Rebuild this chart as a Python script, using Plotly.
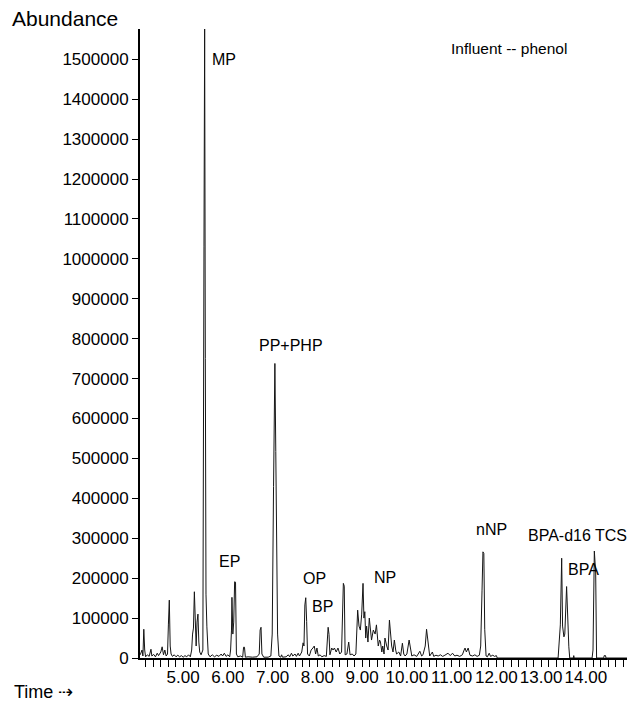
import plotly.graph_objects as go

# ---------------- data ----------------
time_min = [
    4.04, 4.08, 4.10, 4.12, 4.14, 4.16, 4.20, 4.24, 4.28, 4.30, 4.34, 4.38, 4.42, 4.45,
    4.50, 4.53, 4.56, 4.59, 4.62, 4.65, 4.67, 4.69, 4.71, 4.73, 4.76, 4.80, 4.84, 4.88,
    4.92, 4.96, 5.00, 5.04, 5.08, 5.12, 5.16, 5.19, 5.21, 5.23, 5.25, 5.27, 5.29, 5.31,
    5.33, 5.35, 5.37, 5.40, 5.44, 5.465, 5.48, 5.495, 5.51, 5.53, 5.56, 5.60, 5.65, 5.70,
    5.75, 5.80, 5.85, 5.88, 5.92, 5.96, 6.00, 6.04, 6.06, 6.08, 6.09, 6.11, 6.13, 6.15,
    6.17, 6.19, 6.22, 6.28, 6.33, 6.35, 6.37, 6.39, 6.45, 6.55, 6.65, 6.70, 6.72, 6.74,
    6.76, 6.80, 6.90, 6.96, 6.99, 7.02, 7.05, 7.07, 7.09, 7.11, 7.14, 7.18, 7.20, 7.22,
    7.30, 7.35, 7.38, 7.42, 7.45, 7.50, 7.53, 7.57, 7.60, 7.65, 7.68, 7.70, 7.72, 7.74,
    7.76, 7.78, 7.82, 7.86, 7.90, 7.93, 7.96, 7.99, 8.02, 8.06, 8.10, 8.15, 8.20, 8.22,
    8.24, 8.26, 8.28, 8.32, 8.35, 8.38, 8.42, 8.46, 8.50, 8.54, 8.56, 8.58, 8.60, 8.62,
    8.66, 8.70, 8.73, 8.78, 8.82, 8.86, 8.90, 8.93, 8.96, 8.99, 9.02, 9.04, 9.06, 9.08,
    9.10, 9.13, 9.16, 9.19, 9.21, 9.25, 9.29, 9.32, 9.36, 9.39, 9.41, 9.44, 9.46, 9.49,
    9.51, 9.55, 9.58, 9.61, 9.64, 9.66, 9.69, 9.72, 9.75, 9.77, 9.82, 9.86, 9.90, 9.93,
    9.96, 10.00, 10.05, 10.08, 10.11, 10.16, 10.22, 10.29, 10.33, 10.36, 10.41, 10.44,
    10.47, 10.51, 10.57, 10.60, 10.65, 10.70, 10.75, 10.80, 10.85, 10.92, 10.97, 11.02,
    11.07, 11.12, 11.18, 11.24, 11.28, 11.30, 11.33, 11.37, 11.41, 11.47, 11.52, 11.57,
    11.62, 11.65, 11.68, 11.70, 11.72, 11.74, 11.77, 11.80, 11.84, 11.87, 11.92, 11.96,
    12.00, 12.02, 13.38, 13.40, 13.43, 13.46, 13.48, 13.51, 13.53, 13.57, 13.59, 13.62,
    13.64, 13.72, 13.73, 13.74, 14.14, 14.16, 14.19, 14.22, 14.24, 14.40, 14.41, 14.44,
    14.45, 14.92,
]
abundance = [
    8000, 20000, 5000, 72000, 20000, 3000, 8000, 4000, 22000, 5000, 9000, 3000, 12000, 6000,
    15000, 28000, 8000, 20000, 5000, 10000, 85000, 145000, 30000, 10000, 4000, 8000, 3000, 7000,
    3000, 6000, 2000, 6000, 3000, 8000, 3000, 20000, 60000, 75000, 166000, 95000, 30000, 90000,
    110000, 40000, 15000, 8000, 20000, 1030000, 1576000, 750000, 160000, 78000, 10000, 3000, 8000, 3000,
    7000, 4000, 10000, 5000, 12000, 4000, 8000, 3000, 20000, 70000, 152000, 60000, 90000, 191000,
    190000, 10000, 3000, 5000, 2000, 27000, 27000, 2000, 3000, 2000, 3000, 10000, 70000, 77000,
    10000, 2000, 2000, 5000, 60000, 430000, 738000, 517000, 240000, 60000, 5000, 2000, 8000, 2000,
    3000, 8000, 3000, 12000, 5000, 10000, 4000, 12000, 5000, 15000, 38000, 30000, 133000, 151000,
    91000, 10000, 5000, 20000, 25000, 30000, 10000, 25000, 5000, 8000, 3000, 6000, 4000, 40000,
    77000, 59000, 8000, 25000, 20000, 25000, 15000, 25000, 10000, 15000, 110000, 187000, 180000, 8000,
    10000, 40000, 8000, 10000, 5000, 10000, 120000, 80000, 70000, 110000, 187000, 100000, 116000, 50000,
    80000, 40000, 100000, 60000, 45000, 70000, 60000, 83000, 30000, 45000, 40000, 15000, 30000, 10000,
    50000, 30000, 20000, 95000, 60000, 30000, 15000, 45000, 20000, 10000, 15000, 5000, 37000, 10000,
    5000, 10000, 45000, 20000, 5000, 8000, 4000, 17000, 5000, 8000, 30000, 72000,
    40000, 5000, 15000, 4000, 7000, 5000, 8000, 4000, 7000, 12000, 6000, 12000,
    5000, 7000, 4000, 8000, 20000, 25000, 15000, 25000, 7000, 5000, 8000, 4000,
    7000, 30000, 170000, 266000, 262000, 72000, 5000, 3000, 12000, 4000, 7000, 4000,
    6000, 0, 0, 28000, 83000, 250000, 80000, 53000, 60000, 179000, 100000, 28000,
    0, 0, 6000, 0, 0, 20000, 268000, 213000, 0, 0, 6000, 6000,
    0, 0,
]

x_tick_values = [5, 6, 7, 8, 9, 10, 11, 12, 13, 14]
x_tick_labels = ["5.00", "6.00", "7.00", "8.00", "9.00", "10.00", "11.00", "12.00", "13.00", "14.00"]
y_tick_values = [i * 100000 for i in range(16)]
y_tick_labels = [str(v) for v in y_tick_values]

peak_names = ["MP", "EP", "PP+PHP", "OP", "BP", "NP", "nNP", "BPA-d16 TCS", "BPA"]
sample_title = "Influent -- phenol"

# ---------------- layout helpers (positions only) ----------------
peak_label_pos = {
    "MP": (5.60, 1500000),
    "EP": (5.76, 243000),
    "PP+PHP": (6.64, 782000),
    "OP": (7.63, 198000),
    "BP": (7.83, 129000),
    "NP": (9.21, 202000),
    "nNP": (11.50, 323000),
    "BPA-d16 TCS": (12.67, 306000),
    "BPA": (13.55, 223000),
}

FONT = "Liberation Sans, Arial, Helvetica, sans-serif"
W, H = 629, 703
ML, MR, MT, MB = 140, 2, 29, 45
PW, PH = W - ML - MR, H - MT - MB


def px_to_paper(px, py):
    return (px - ML) / PW, (H - MB - py) / PH


fig = go.Figure()
fig.add_trace(go.Scatter(
    x=time_min, y=abundance, mode="lines",
    line=dict(color="#151515", width=1),
    hoverinfo="skip", showlegend=False, cliponaxis=True,
))

annotations = []
for name in peak_names:
    tx, ty = peak_label_pos[name]
    annotations.append(dict(x=tx, y=ty, xref="x", yref="y", text=name,
                            showarrow=False, xanchor="left", yanchor="middle",
                            font=dict(family=FONT, size=16, color="#000")))

ax, ay = px_to_paper(449, 49)
annotations.append(dict(x=ax, y=ay, xref="paper", yref="paper", text=sample_title,
                        showarrow=False, xanchor="left", yanchor="middle",
                        font=dict(family=FONT, size=15.5, color="#000")))
ax, ay = px_to_paper(10, 19)
annotations.append(dict(x=ax, y=ay, xref="paper", yref="paper", text="Abundance",
                        showarrow=False, xanchor="left", yanchor="middle",
                        font=dict(family=FONT, size=21, color="#000")))
ax, ay = px_to_paper(12, 692)
annotations.append(dict(x=ax, y=ay, xref="paper", yref="paper", text="Time \u21e2",
                        showarrow=False, xanchor="left", yanchor="middle",
                        font=dict(family=FONT, size=18, color="#000")))

fig.update_layout(
    width=W, height=H,
    margin=dict(l=ML, r=MR, t=MT, b=MB),
    paper_bgcolor="white", plot_bgcolor="white",
    font=dict(family=FONT, color="#000"),
    annotations=annotations,
    xaxis=dict(
        range=[4.035, 14.92], showgrid=False, zeroline=False,
        showline=True, linecolor="#000", linewidth=2,
        tickmode="array", tickvals=x_tick_values, ticktext=x_tick_labels,
        ticks="outside", ticklen=3, tickwidth=1, tickcolor="#000",
        tickfont=dict(family=FONT, size=17, color="#000"),
        minor=dict(tickmode="linear", tick0=4, dtick=1 / 6, ticks="outside",
                   ticklen=7, tickwidth=1, tickcolor="#000", showgrid=False),
    ),
    yaxis=dict(
        range=[0, 1576000], showgrid=False, zeroline=False,
        showline=True, linecolor="#000", linewidth=2,
        tickmode="array", tickvals=y_tick_values, ticktext=y_tick_labels,
        ticks="outside", ticklen=6, tickwidth=1, tickcolor="#000",
        tickfont=dict(family=FONT, size=17, color="#000"),
    ),
)

fig.write_html(
    "out.html",
    config={"displayModeBar": False, "staticPlot": True},
    post_script="document.body.style.margin='0';document.body.style.overflow='hidden';",
)
